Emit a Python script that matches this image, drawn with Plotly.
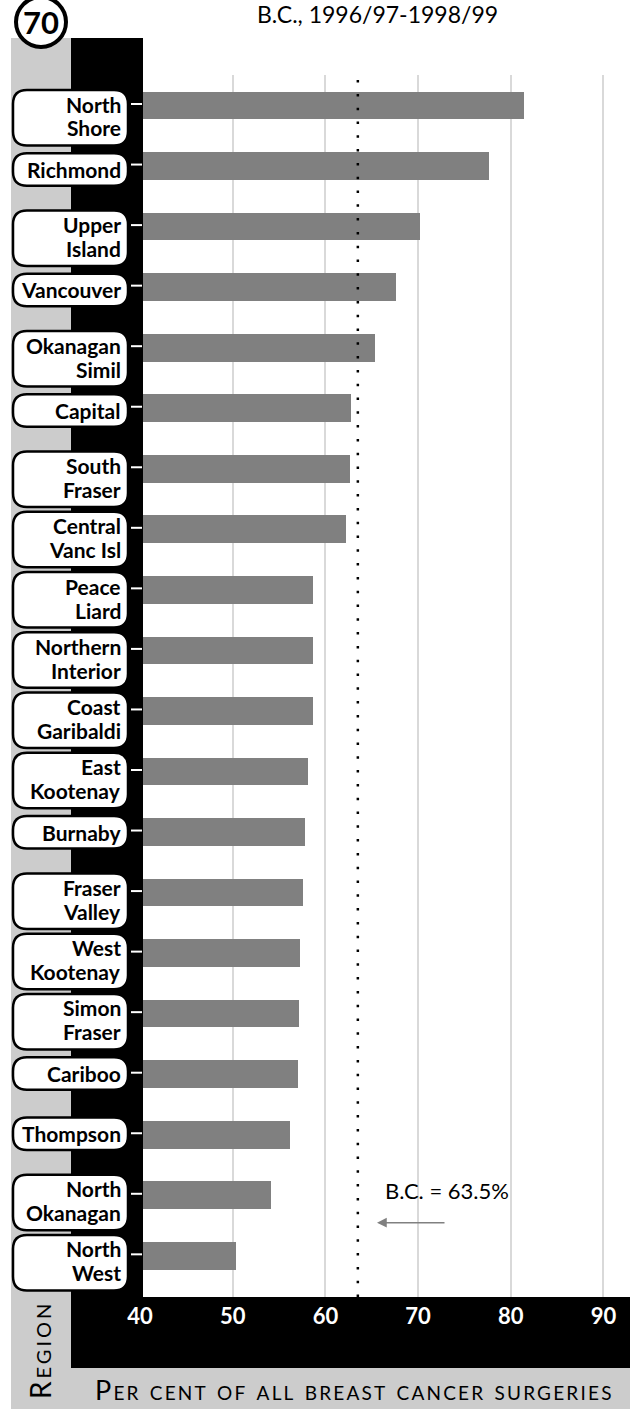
import plotly.graph_objects as go

# ---------------- data ----------------
regions = ["North Shore", "Richmond", "Upper Island", "Vancouver", "Okanagan Simil",
           "Capital", "South Fraser", "Central Vanc Isl", "Peace Liard", "Northern Interior",
           "Coast Garibaldi", "East Kootenay", "Burnaby", "Fraser Valley", "West Kootenay",
           "Simon Fraser", "Cariboo", "Thompson", "North Okanagan", "North West"]
values = [81.4, 77.6, 70.2, 67.6, 65.3, 62.8, 62.6, 62.2, 58.7, 58.7,
          58.7, 58.1, 57.8, 57.6, 57.3, 57.1, 57.0, 56.2, 54.1, 50.4]
single_line = ["Richmond", "Vancouver", "Capital", "Burnaby", "Cariboo", "Thompson"]
x_ticks = [40, 50, 60, 70, 80, 90]
bc_rate = 63.5
chart_number = "70"
title_text = "B.C., 1996/97-1998/99"
x_title = "Per cent of all breast cancer surgeries"
y_title = "Region"

# ---------------- layout geometry ----------------
W, H = 630, 1411
L, R, T, B = 140, 0, 75, 114
X_RANGE = [40, 92.86]
Y_RANGE = [19.68, -0.504]
PW, PH = W - L - R, H - T - B

def px(x):  # pixel x -> paper
    return (x - L) / PW

def py(y):  # pixel y -> paper
    return (H - B - y) / PH

def xv(x):  # pixel x -> data value
    return X_RANGE[0] + (x - L) / PW * (X_RANGE[1] - X_RANGE[0])

ROW_PX = PH / (Y_RANGE[0] - Y_RANGE[1])

def row_px(i):
    return T + (i - Y_RANGE[1]) * ROW_PX

def rrect(x0, y0, x1, y1, r):
    pts = [("M", [(x0 + r, y0)]), ("L", [(x1 - r, y0)]), ("Q", [(x1, y0), (x1, y0 + r)]),
           ("L", [(x1, y1 - r)]), ("Q", [(x1, y1), (x1 - r, y1)]), ("L", [(x0 + r, y1)]),
           ("Q", [(x0, y1), (x0, y1 - r)]), ("L", [(x0, y0 + r)]), ("Q", [(x0, y0), (x0 + r, y0)])]
    s = ""
    for cmd, ps in pts:
        s += cmd + " " + " ".join(f"{px(a):.5f},{py(b):.5f}" for a, b in ps) + " "
    return s + "Z"

FONT = "Lato, 'Open Sans', sans-serif"

fig = go.Figure()
fig.add_trace(go.Bar(
    x=values, y=regions, orientation="h",
    marker=dict(color="#808080", line=dict(width=0)),
    width=0.457, hoverinfo="skip"))

shapes = []
GRAY = "#cccccc"
# gray strips (below)
shapes.append(dict(type="rect", xref="paper", yref="paper", layer="below",
                   x0=px(11), x1=px(71), y0=py(1409), y1=py(38),
                   fillcolor=GRAY, line=dict(width=0)))
shapes.append(dict(type="rect", xref="paper", yref="paper", layer="below",
                   x0=px(71), x1=px(W), y0=py(1409), y1=py(1368),
                   fillcolor=GRAY, line=dict(width=0)))
# black bottom band (below so tick labels show on top)
shapes.append(dict(type="rect", xref="paper", yref="paper", layer="below",
                   x0=px(71), x1=px(W), y0=py(1368), y1=0,
                   fillcolor="black", line=dict(width=0)))
# black left strip (above bars)
shapes.append(dict(type="rect", xref="paper", yref="paper", layer="above",
                   x0=px(71), x1=px(143), y0=0, y1=py(38),
                   fillcolor="black", line=dict(width=0)))
# reference line
shapes.append(dict(type="line", xref="x", yref="paper", layer="above",
                   x0=bc_rate, x1=bc_rate, y0=0, y1=1,
                   line=dict(color="black", width=2.5, dash="2.5px,11.3px")))

annotations = []
LABEL_TOP, LABEL_PITCH = 90, 60.26
for i, name in enumerate(regions):
    top = LABEL_TOP + i * LABEL_PITCH
    c = row_px(i)
    if name in single_line:
        y0, y1 = top + 3, top + 35.5
        lines = [(name, top + 19)]
    else:
        y0, y1 = top, top + 55.5
        first, second = name.split(" ", 1)
        lines = [(first, top + 14), (second, top + 38)]
    shapes.append(dict(type="path", xref="paper", yref="paper", layer="above",
                       path=rrect(13, y0, 128, y1, 14),
                       fillcolor="white", line=dict(color="black", width=2.5)))
    shapes.append(dict(type="line", xref="paper", yref="paper", layer="above",
                       x0=px(131), x1=px(142), y0=py(c - 1.5), y1=py(c - 1.5),
                       line=dict(color="white", width=2)))
    for txt, yc in lines:
        annotations.append(dict(text=txt, xref="paper", yref="paper", x=px(123), y=py(yc),
                                xanchor="right", yanchor="middle", showarrow=False,
                                font=dict(family=FONT, size=21, color="black", weight="bold")))

# number circle
shapes.append(dict(type="circle", xref="paper", yref="paper", layer="above",
                   x0=px(16), x1=px(66), y0=py(47), y1=py(-3),
                   fillcolor="white", line=dict(color="black", width=4)))
annotations.append(dict(text=chart_number, xref="paper", yref="paper", x=px(41), y=py(22),
                        xanchor="center", yanchor="middle", showarrow=False,
                        font=dict(family=FONT, size=31, color="black", weight="bold")))
# title
annotations.append(dict(text=title_text, xref="paper", yref="paper", x=px(377), y=py(14),
                        xanchor="center", yanchor="middle", showarrow=False,
                        font=dict(family=FONT, size=23, color="black")))
# B.C. note
annotations.append(dict(text=f"B.C. = {bc_rate}%", xref="paper", yref="paper", x=px(383), y=py(1190),
                        xanchor="left", yanchor="middle", showarrow=False,
                        font=dict(family=FONT, size=22, color="black")))
annotations.append(dict(text="", xref="x", yref="paper", x=xv(377), y=py(1222.7),
                        axref="pixel", ayref="pixel", ax=69, ay=0, showarrow=True,
                        arrowhead=2, arrowsize=1.3, arrowwidth=1.5, arrowcolor="#808080",
                        standoff=0, startstandoff=0))
# axis titles
annotations.append(dict(text=f'<span style="letter-spacing:2.2px">{x_title}</span>',
                        xref="paper", yref="paper", x=px(354), y=py(1389),
                        xanchor="center", yanchor="middle", showarrow=False,
                        font=dict(family=FONT, size=27, color="black", variant="small-caps")))
annotations.append(dict(text=f'<span style="letter-spacing:3px">{y_title}</span>',
                        xref="paper", yref="paper", x=px(40), y=py(1350),
                        xanchor="center", yanchor="middle", showarrow=False, textangle=-90,
                        font=dict(family=FONT, size=28, color="black", variant="small-caps")))

fig.update_layout(
    width=W, height=H,
    margin=dict(l=L, r=R, t=T, b=B, pad=0),
    paper_bgcolor="white", plot_bgcolor="white",
    showlegend=False, bargap=0,
    shapes=shapes, annotations=annotations,
    xaxis=dict(range=X_RANGE, tickvals=x_ticks, showgrid=True, gridcolor="#d9d9d9",
               gridwidth=2, zeroline=False, showline=False, ticks="",
               tickfont=dict(family=FONT, size=22, color="white", weight="bold"),
               ticklabelstandoff=4, fixedrange=True),
    yaxis=dict(type="category", categoryorder="array", categoryarray=regions,
               range=Y_RANGE, showticklabels=False, showgrid=False, zeroline=False,
               showline=False, ticks="", fixedrange=True),
)

fig.write_html("out.html", config={"displayModeBar": False},
               post_script="document.body.style.margin='0';document.body.style.overflow='hidden';")
